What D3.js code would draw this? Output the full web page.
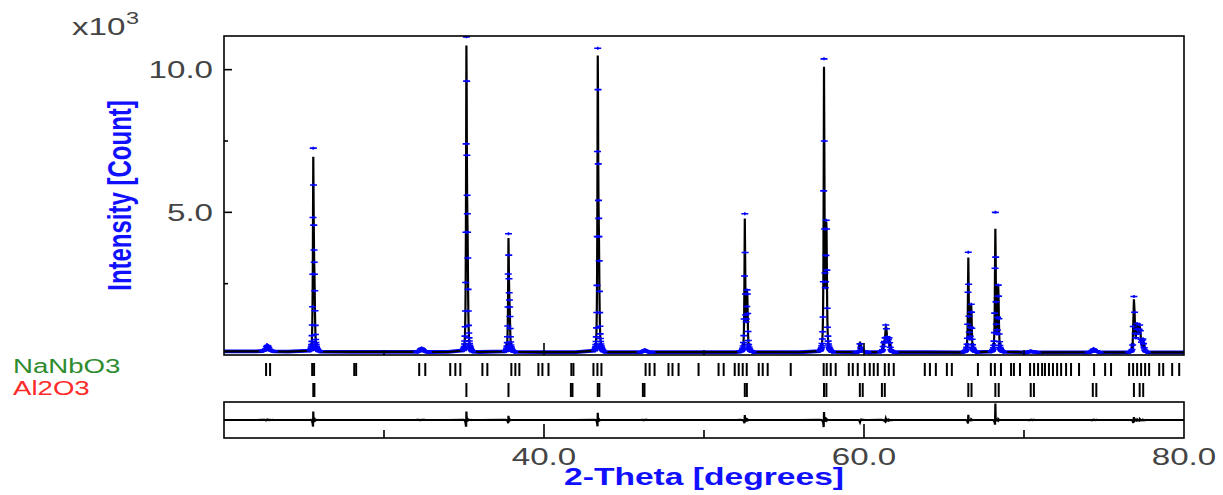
<!DOCTYPE html>
<html>
<head>
<meta charset="utf-8">
<script src="https://cdn.jsdelivr.net/npm/d3@7"></script>
<style>
  body { margin: 0; background: #fff; }
  svg { display: block; font-family: 'Liberation Sans', Arial, sans-serif; }
</style>
</head>
<body>
<svg id="chart" width="1223" height="495"></svg>
<script>
// ---- data (2-theta in degrees, intensity in counts) ----
const bgTheta  = [20,22,24,26,28,30,32,34,36,38,40,42,44,46,48,50,52,54,56,58,60,62,64,66,68,70,72,74,76,78,80];
const bgCounts = [130,125,120,116,112,110,108,106,105,104,103,102,101,100,100,99,98,98,97,97,96,96,96,95,95,95,95,95,95,95,95];

// scan segments round each reflection: first 2-theta, step, observed and calculated counts
const segStart = [22.40, 25.385, 32.05, 34.955, 37.585, 43.165, 46.00, 52.29, 57.24, 59.50, 61.04, 66.26, 67.95, 70.10, 74.00, 76.55];
const segStep  = [0.05, 0.015, 0.05, 0.015, 0.015, 0.015, 0.05, 0.02, 0.02, 0.05, 0.04, 0.02, 0.02, 0.05, 0.05, 0.04];
const obsCounts = [
  [140,145,155,175,220,290,335,310,260,200,170,150,140,135,130,128],
  [150,166,184,210,240,296,362,478,680,1050,1690,2830,4820,7250,5960,4550,3680,3250,2830,2250,1550,1040,720,545,436,366,306,266,236,214,200,186,172,164,158,150,143,136,128,122],
  [110,112,118,135,170,215,232,215,180,150,130,118,112,108,106,105],
  [160,180,216,250,300,385,490,660,990,1540,2540,4300,7400,11150,9600,7000,5600,4950,4300,3400,2300,1540,1040,770,600,490,405,338,292,260,238,215,194,182,170,160,150,138,127,116],
  [123,131,143,156,177,206,247,310,434,641,1015,1680,2840,4250,3500,2670,2180,1930,1680,1350,930,641,455,350,289,247,214,189,173,160,152,143,135,131,127,123,119,114,110,106],
  [154,175,208,240,292,368,474,634,952,1490,2440,4150,7130,10750,9300,6700,5420,4790,4150,3300,2230,1485,1006,740,580,474,388,325,282,250,229,207,186,176,165,154,144,133,122,112],
  [100,102,106,115,135,160,172,160,140,120,108,103,101,100,100,100],
  [117,122,132,142,156,176,205,244,316,438,680,1262,2767,4950,3591,2136,1408,1165,1262,1699,2281,2136,1457,826,510,365,282,234,200,176,161,151,142,132,127,122,117,113,108,103],
  [138,148,169,190,220,262,323,405,560,817,1331,2565,5753,10380,7500,4416,2873,2359,2565,3490,4724,4416,2976,1639,971,663,488,385,313,262,231,210,190,169,159,148,138,128,118,107],
  [96,98,101,106,140,390,260,170,150,140,125,110,104,101,99,97],
  [110,118,135,180,300,430,470,600,1050,920,640,470,540,600,430,270,185,140,120,110,104,100,98,96],
  [110,114,121,128,138,152,173,208,271,376,587,1077,2198,3600,2479,1357,797,587,551,657,972,1498,1778,1498,937,551,359,264,215,184,163,149,138,131,124,117,114,110,107,103],
  [116,121,130,140,155,174,204,253,341,488,783,1469,3038,5000,3431,1861,1077,783,734,881,1322,2058,2450,2058,1273,734,464,331,263,219,189,170,155,145,135,125,121,116,111,106],
  [95,96,97,99,104,115,132,128,118,110,112,108,101,98,96,95],
  [96,97,99,102,110,135,178,205,185,150,140,130,112,103,99,97],
  [100,104,110,120,140,190,350,1000,2050,1500,750,600,900,1100,900,750,900,1050,850,550,450,520,560,400,250,170,130,112,104,100]
];
const calcCounts = [
  [138,143,152,172,225,300,320,305,255,205,168,150,140,134,130,128],
  [148,163,183,208,244,300,372,500,720,1120,1800,3000,5050,6950,5900,4600,3720,3200,2780,2230,1560,1060,730,548,438,364,306,265,236,214,200,186,172,164,157,150,143,136,128,122],
  [109,111,117,133,172,220,225,212,178,148,129,118,112,108,106,105],
  [158,178,214,250,305,390,505,690,1040,1620,2680,4500,7600,10850,9500,7050,5620,4900,4260,3380,2310,1550,1045,770,600,490,404,337,292,260,238,215,193,182,171,160,149,138,127,116],
  [122,130,142,155,178,208,252,320,455,675,1070,1760,2950,4100,3460,2690,2200,1920,1660,1340,935,648,458,352,290,247,214,189,173,160,152,143,135,131,127,123,119,114,110,106],
  [152,174,206,240,296,372,486,655,990,1545,2540,4300,7350,10500,9200,6760,5450,4760,4120,3280,2240,1495,1010,742,580,474,388,325,282,250,229,207,186,176,165,154,144,133,122,112],
  [100,102,105,114,137,163,166,157,138,119,108,103,101,100,100,100],
  [116,121,131,142,157,178,209,252,330,460,720,1330,2880,4780,3560,2160,1420,1170,1280,1720,2250,2110,1470,835,514,366,282,234,200,176,161,151,142,132,127,122,117,113,108,103],
  [137,147,168,190,222,266,331,420,585,860,1400,2700,6000,10100,7450,4450,2900,2370,2590,3520,4680,4380,2990,1650,975,664,488,385,313,262,231,210,190,169,159,148,138,128,118,107],
  [96,98,101,106,150,470,250,160,145,135,122,110,104,101,99,97],
  [108,116,134,180,310,450,480,640,1000,940,630,480,560,590,440,275,188,142,121,110,104,100,98,96],
  [110,114,121,128,139,154,177,215,285,400,625,1150,2320,3420,2440,1370,805,590,555,665,985,1510,1750,1480,935,552,360,264,215,184,163,149,138,131,124,117,114,110,107,103],
  [116,121,130,140,156,176,209,262,360,520,835,1560,3200,4420,3380,1880,1085,787,738,888,1335,2080,2420,2040,1270,735,465,331,263,219,189,170,155,145,135,125,121,116,111,106],
  [95,96,97,99,105,117,128,126,117,111,110,107,101,98,96,95],
  [96,97,99,102,112,140,182,196,182,152,138,128,112,103,99,97],
  [100,104,110,120,142,200,380,1100,1950,1520,740,610,920,1080,910,760,920,1020,860,545,455,530,550,405,255,172,131,112,104,100]
];

// reflection positions of the two phases
const nanbo3Refl = [22.63,22.88,25.51,25.63,28.14,28.26,32.20,32.58,34.14,34.46,34.77,36.15,36.46,37.96,38.21,38.46,
  39.65,39.90,40.28,41.71,41.84,43.09,43.34,43.59,46.35,46.60,46.91,47.78,48.03,48.41,49.66,50.91,51.23,
  51.92,52.17,52.42,52.67,53.42,53.67,53.98,55.42,57.48,57.67,57.92,58.23,59.05,59.30,59.61,60.05,
  60.36,60.61,60.86,61.30,61.55,61.86,63.80,64.12,64.49,65.18,65.49,67.12,67.93,68.18,68.56,69.19,69.37,69.75,
  70.38,70.63,70.88,71.13,71.31,71.56,71.81,72.07,72.32,72.63,72.94,73.44,74.38,75.07,75.44,
  76.57,76.82,77.07,77.32,77.57,77.82,78.45,78.70,79.26,79.70];
const al2o3Refl = [25.58,25.65,35.15,37.78,41.68,41.78,43.36,43.46,46.18,46.28,52.55,52.68,57.50,57.65,59.74,59.92,
  61.12,61.30,66.52,66.72,68.21,68.42,70.42,70.62,74.30,74.52,76.87,77.23,77.45];

const xMajor = [40, 60];
const xMinor = [30, 50, 70];
const xLabels = [40, 60, 80];
const yMajor = [5000, 10000];
const yMinor = [2500, 7500];

// ---- layout ----
const svg = d3.select('#chart');
const plotLeft = 224, plotRight = 1184, plotTop = 36, plotBottom = 355;
const diffTop = 402, diffBottom = 438;
const sx = 1.38;   // the whole picture is stretched sideways

const x = d3.scaleLinear().domain([20, 80]).range([plotLeft, plotRight]);
const y = d3.scaleLinear().domain([0, 11180]).range([plotBottom, plotTop]);
const yd = d3.scaleLinear().domain([-630, 630]).range([diffBottom, diffTop]);

// merge segments and background into one series
let obs = [], calc = [];
segStart.forEach(function(s, i){
  obsCounts[i].forEach(function(c, j){
    const t = s + j * segStep[i];
    obs.push({t: t, c: c, seg: true});
    calc.push({t: t, c: calcCounts[i][j]});
  });
});
const segEnd = segStart.map(function(s, i){ return s + (obsCounts[i].length - 1) * segStep[i]; });
bgTheta.forEach(function(t, i){
  const inside = segStart.some(function(s, k){ return t >= s - 0.01 && t <= segEnd[k] + 0.01; });
  if(!inside){
    obs.push({t: t, c: bgCounts[i], seg: false});
    calc.push({t: t, c: bgCounts[i]});
  }
});
obs.sort(function(a, b){ return a.t - b.t; });
calc.sort(function(a, b){ return a.t - b.t; });
const diff = obs.map(function(d, i){ return {t: d.t, c: d.c - calc[i].c}; });

function stretchedText(g, px, py, str, size, anchor){
  return g.append('text')
    .attr('transform', 'translate(' + px + ',' + py + ') scale(' + sx + ',1)')
    .attr('text-anchor', anchor)
    .style('font-size', size + 'px')
    .text(str);
}

const defs = svg.append('defs');
defs.append('clipPath').attr('id', 'plotClip')
  .append('rect').attr('x', plotLeft).attr('y', plotTop).attr('width', plotRight - plotLeft).attr('height', plotBottom - plotTop);
defs.append('clipPath').attr('id', 'baseClip')
  .append('rect').attr('x', plotLeft).attr('y', y(420)).attr('width', plotRight - plotLeft).attr('height', plotBottom - y(420));
defs.append('clipPath').attr('id', 'diffClip')
  .append('rect').attr('x', plotLeft).attr('y', diffTop).attr('width', plotRight - plotLeft).attr('height', diffBottom - diffTop);

function drawPattern(){
  const line = d3.line().x(function(d){ return x(d.t); }).y(function(d){ return y(d.c); });

  // dense observed points along the background make a blue band
  svg.append('path')
    .datum(obs)
    .attr('clip-path', 'url(#baseClip)')
    .attr('d', line)
    .style('fill', 'none')
    .style('stroke', '#0000ff')
    .style('stroke-width', 3.8);

  svg.append('path')
    .datum(calc)
    .attr('clip-path', 'url(#plotClip)')
    .attr('d', line)
    .style('fill', 'none')
    .style('stroke', '#000')
    .style('stroke-width', 2.2);

  svg.append('g')
    .attr('clip-path', 'url(#plotClip)')
    .selectAll('path')
    .data(obs.filter(function(d){ return d.seg; }))
    .enter()
    .append('path')
    .attr('transform', function(d){ return 'translate(' + x(d.t) + ',' + y(d.c) + ')'; })
    .attr('d', 'M-3.5,0H3.5M0,-1.5V1.5')
    .style('stroke', '#0000ff')
    .style('stroke-width', 1.6);
}

function drawFrames(){
  svg.append('rect')
    .attr('x', plotLeft).attr('y', plotTop).attr('width', plotRight - plotLeft).attr('height', plotBottom - plotTop)
    .style('fill', 'none').style('stroke', '#000').style('stroke-width', 1.6);
  svg.append('rect')
    .attr('x', plotLeft).attr('y', diffTop).attr('width', plotRight - plotLeft).attr('height', diffBottom - diffTop)
    .style('fill', 'none').style('stroke', '#000').style('stroke-width', 1.6);

  const ticks = svg.append('g').style('stroke', '#000').style('stroke-width', 1.6);
  xMajor.forEach(function(v){
    ticks.append('line').attr('x1', x(v)).attr('x2', x(v)).attr('y1', plotBottom).attr('y2', plotBottom - 12);
    ticks.append('line').attr('x1', x(v)).attr('x2', x(v)).attr('y1', diffBottom).attr('y2', diffBottom - 14);
  });
  xMinor.forEach(function(v){
    ticks.append('line').attr('x1', x(v)).attr('x2', x(v)).attr('y1', plotBottom).attr('y2', plotBottom - 5);
    ticks.append('line').attr('x1', x(v)).attr('x2', x(v)).attr('y1', diffBottom).attr('y2', diffBottom - 8);
  });
  yMajor.forEach(function(v){
    ticks.append('line').attr('x1', plotLeft).attr('x2', plotLeft + 8).attr('y1', y(v)).attr('y2', y(v));
  });
  yMinor.forEach(function(v){
    ticks.append('line').attr('x1', plotLeft).attr('x2', plotLeft + 4).attr('y1', y(v)).attr('y2', y(v));
  });
}

function drawReflections(){
  const g = svg.append('g').style('stroke', '#000').style('stroke-width', 2);
  nanbo3Refl.forEach(function(t){
    g.append('line').attr('x1', x(t)).attr('x2', x(t)).attr('y1', 363).attr('y2', 376);
  });
  al2o3Refl.forEach(function(t){
    g.append('line').attr('x1', x(t)).attr('x2', x(t)).attr('y1', 383).attr('y2', 397);
  });
}

function drawDiff(){
  const line = d3.line().x(function(d){ return x(d.t); }).y(function(d){ return yd(d.c); });
  svg.append('path')
    .datum(diff)
    .attr('clip-path', 'url(#diffClip)')
    .attr('d', line)
    .style('fill', 'none')
    .style('stroke', '#000')
    .style('stroke-width', 2.2);
}

function drawLabels(){
  const g = svg.append('g').style('fill', '#444');
  yMajor.forEach(function(v){
    stretchedText(g, 213, y(v) + 8.5, (v / 1000).toFixed(1), 24, 'end');
  });
  xLabels.forEach(function(v){
    stretchedText(g, x(v), 465, v.toFixed(1), 24, 'middle');
  });
  stretchedText(g, 72, 35, 'x10', 24, 'start');
  stretchedText(g, 126, 24, '3', 17, 'start');

  svg.append('text')
    .attr('transform', 'translate(' + ((plotLeft + plotRight) / 2) + ',485) scale(1.4,1)')
    .attr('text-anchor', 'middle')
    .style('font-size', '24px')
    .style('font-weight', 'bold')
    .style('fill', '#1010ff')
    .text('2-Theta [degrees]');

  svg.append('text')
    .attr('transform', 'translate(131,' + ((plotTop + plotBottom) / 2) + ') scale(1.4,1) rotate(-90)')
    .attr('text-anchor', 'middle')
    .style('font-size', '24px')
    .style('font-weight', 'bold')
    .style('fill', '#1010ff')
    .text('Intensity [Count]');

  stretchedText(svg, 13, 373, 'NaNbO3', 20, 'start').style('fill', '#2e8b2e');
  stretchedText(svg, 13, 395, 'Al2O3', 20, 'start').style('fill', '#ff2a2a');
}

drawPattern();
drawDiff();
drawReflections();
drawFrames();
drawLabels();
</script>
</body>
</html>
